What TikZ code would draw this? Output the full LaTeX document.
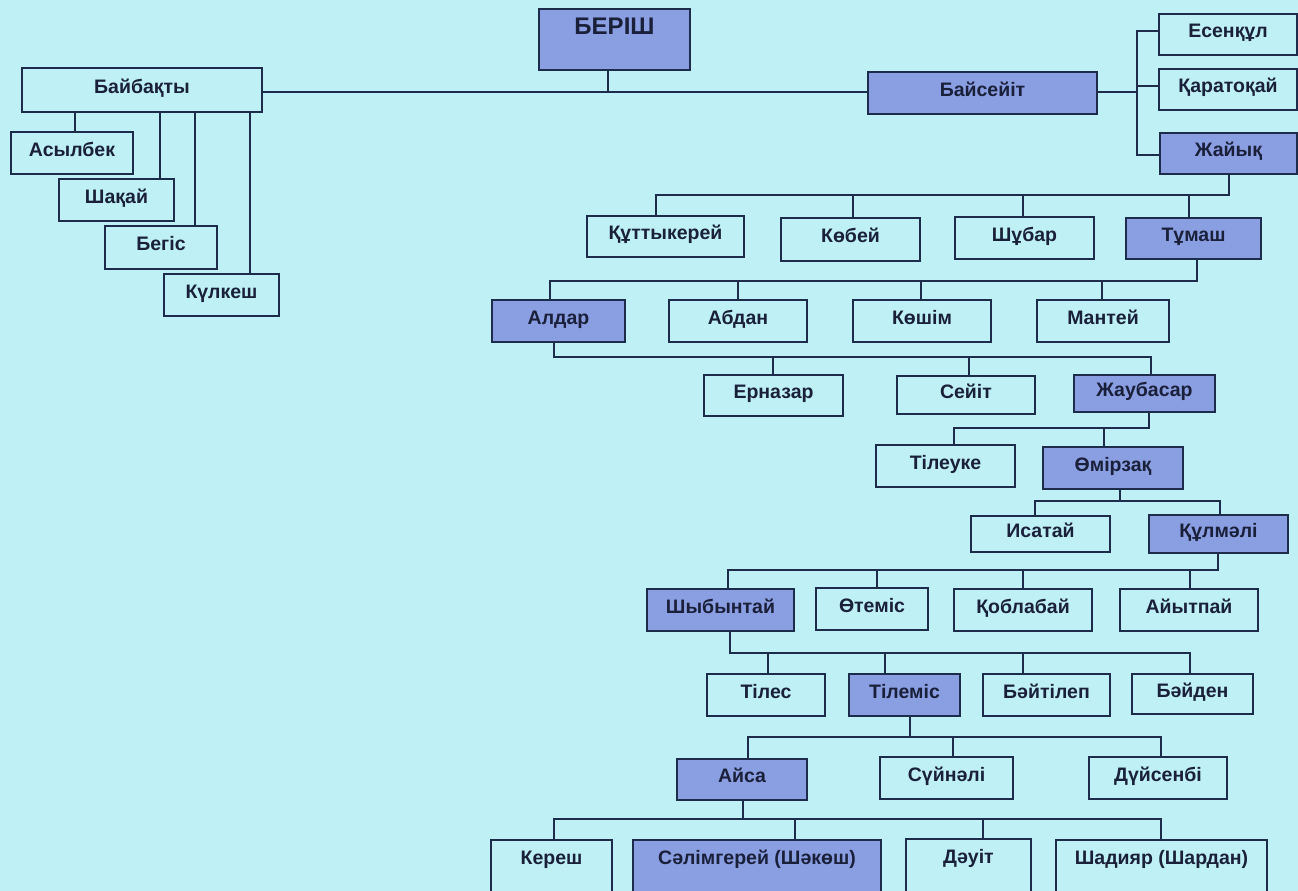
\documentclass[tikz,border=0pt]{standalone}
\usepackage{fontspec}
\setmainfont{Liberation Sans}
\definecolor{bg}{RGB}{190,240,246}
\definecolor{hl}{RGB}{138,158,226}
\definecolor{edge}{RGB}{28,44,74}
\definecolor{ink}{RGB}{26,32,58}
\tikzset{
  box/.style={draw=edge, line width=1.8pt, fill=bg, inner sep=0pt, outer sep=0pt, text=ink,
    font=\fontsize{19.5}{21}\selectfont\bfseries, text height=13pt, text depth=7pt},
  hbox/.style={box, fill=hl},
  lowtext/.style={text height=2pt, text depth=14pt},
  conn/.style={draw=edge, line width=1.8pt, line cap=rect},
}
\newcommand\famlink[6]{%
  \coordinate (#1-st) at (#2,#3);
  \coordinate (#1-bl) at (#4,#3);
  \coordinate (#1-br) at (#5,#3);
  \draw[conn] (#1.south -| #1-st) -- (#1-st);
  \draw[conn] (#1-bl) -- (#1-br);
  \foreach \c/\x in {#6}{\coordinate (\c-dr) at (\x,#3); \draw[conn] (\c.north -| \c-dr) -- (\c-dr);}
}
\begin{document}
\begin{tikzpicture}[x=1pt,y=-1pt]
\useasboundingbox (0,0) rectangle (1298,891);
\fill[bg] (0,0) rectangle (1298,891);

% nodes
\node[hbox, minimum width=151pt, minimum height=61pt, font=\fontsize{24}{26}\selectfont\bfseries, text height=4pt, text depth=13pt] (beris) at (614.5,39.5) {БЕРІШ};
\node[box, minimum width=240pt, minimum height=44pt] (baib) at (142,90) {Байбақты};
\node[box, minimum width=122pt, minimum height=42pt] (asyl) at (72,153) {Асылбек};
\node[box, minimum width=115pt, minimum height=42pt] (shaq) at (116.5,200) {Шақай};
\node[box, minimum width=112pt, minimum height=43pt] (begis) at (161,247.5) {Бегіс};
\node[box, minimum width=115pt, minimum height=42pt] (kulk) at (221.5,295) {Күлкеш};

\node[hbox, minimum width=229pt, minimum height=42pt] (bais) at (982.5,93) {Байсейіт};
\node[box, minimum width=138pt, minimum height=41pt] (esen) at (1228,34.5) {Есенқұл};
\node[box, minimum width=138pt, minimum height=41pt] (qara) at (1228,89.5) {Қаратоқай};
\node[hbox, minimum width=137pt, minimum height=41pt] (zhai) at (1228.5,153.5) {Жайық};

\node[box, minimum width=157pt, minimum height=41pt] (qutt) at (665.5,236.5) {Құттыкерей};
\node[box, minimum width=139pt, minimum height=43pt] (kobei) at (850.5,239.5) {Көбей};
\node[box, minimum width=139pt, minimum height=42pt] (shubar) at (1024.5,238) {Шұбар};
\node[hbox, minimum width=135pt, minimum height=41pt] (tumash) at (1193.5,238.5) {Тұмаш};

\node[hbox, minimum width=133pt, minimum height=42pt] (aldar) at (558.5,321) {Алдар};
\node[box, minimum width=138pt, minimum height=42pt] (abdan) at (738,321) {Абдан};
\node[box, minimum width=138pt, minimum height=42pt] (koshim) at (922,321) {Көшім};
\node[box, minimum width=132pt, minimum height=42pt] (mantei) at (1103,321) {Мантей};

\node[box, minimum width=139pt, minimum height=41pt] (ernazar) at (773.5,395.5) {Ерназар};
\node[box, minimum width=138pt, minimum height=38pt] (seiit) at (966,395) {Сейіт};
\node[hbox, minimum width=141pt, minimum height=37pt] (zhaub) at (1144.5,393.5) {Жаубасар};

\node[box, minimum width=139pt, minimum height=42pt] (tileuke) at (945.5,466) {Тілеуке};
\node[hbox, minimum width=140pt, minimum height=42pt] (omirzaq) at (1113,468) {Өмірзақ};

\node[box, minimum width=139pt, minimum height=36pt] (isatai) at (1040.5,534) {Исатай};
\node[hbox, minimum width=139pt, minimum height=38pt] (qulmali) at (1218.5,534) {Құлмәлі};

\node[hbox, minimum width=147pt, minimum height=42pt] (shyb) at (720.5,610) {Шыбынтай};
\node[box, minimum width=112pt, minimum height=42pt] (otemis) at (872,609) {Өтеміс};
\node[box, minimum width=138pt, minimum height=42pt] (qoblabai) at (1023,610) {Қоблабай};
\node[box, minimum width=138pt, minimum height=42pt] (aiytpai) at (1189,610) {Айытпай};

\node[box, minimum width=118pt, minimum height=42pt] (tiles) at (766,695) {Тілес};
\node[hbox, minimum width=111pt, minimum height=42pt] (tilemis) at (904.5,695) {Тілеміс};
\node[box, minimum width=127pt, minimum height=42pt] (baitilep) at (1046.5,695) {Бәйтілеп};
\node[box, minimum width=121pt, minimum height=40pt] (baiden) at (1192.5,694) {Бәйден};

\node[hbox, minimum width=130pt, minimum height=41pt] (aisa) at (742,779.5) {Айса};
\node[box, minimum width=133pt, minimum height=42pt] (suinali) at (946.5,778) {Сүйнәлі};
\node[box, minimum width=138pt, minimum height=42pt] (duisenbi) at (1158,778) {Дүйсенбі};

\node[box, lowtext, minimum width=121pt, minimum height=60pt] (keresh) at (551.5,870) {Кереш};
\node[hbox, lowtext, minimum width=248pt, minimum height=60pt] (salim) at (757,870) {Сәлімгерей (Шәкөш)};
\node[box, lowtext, minimum width=125pt, minimum height=61pt] (dauit) at (968.5,869.5) {Дәуіт};
\node[box, lowtext, minimum width=211pt, minimum height=60pt] (shadiyar) at (1161.5,870) {Шадияр (Шардан)};

% connectors
\coordinate (root-j) at (608,92);
\draw[conn] (beris.south -| root-j) -- (root-j);
\draw[conn] (baib.east |- root-j) -- (bais.west |- root-j);

\foreach \c/\x in {asyl/75, shaq/160, begis/195, kulk/250}{
  \coordinate (\c-up) at (\x,112);
  \draw[conn] (\c.north -| \c-up) -- (baib.south -| \c-up);
}

\coordinate (brk) at (1137,92);
\coordinate (brkT) at (1137,31);
\coordinate (brkM) at (1137,86);
\coordinate (brkB) at (1137,155);
\draw[conn] (bais.east |- brk) -- (brk);
\draw[conn] (brkT) -- (brkB);
\draw[conn] (brkT) -- (esen.west |- brkT);
\draw[conn] (brkM) -- (qara.west |- brkM);
\draw[conn] (brkB) -- (zhai.west |- brkB);

\famlink{zhai}{1229}{195}{656}{1229}{qutt/656, kobei/853, shubar/1023, tumash/1189}
\famlink{tumash}{1197}{281}{550}{1197}{aldar/550, abdan/738, koshim/921, mantei/1102}
\famlink{aldar}{554}{357}{554}{1151}{ernazar/773, seiit/969, zhaub/1151}
\famlink{zhaub}{1149}{428}{954}{1149}{tileuke/954, omirzaq/1104}
\famlink{omirzaq}{1120}{501}{1035}{1220}{isatai/1035, qulmali/1220}
\famlink{qulmali}{1218}{570}{728}{1218}{shyb/728, otemis/877, qoblabai/1023, aiytpai/1190}
\famlink{shyb}{730}{653}{730}{1190}{tiles/768, tilemis/885, baitilep/1023, baiden/1190}
\famlink{tilemis}{910}{737}{748}{1161}{aisa/748, suinali/953, duisenbi/1161}
\famlink{aisa}{743}{819}{554}{1161}{keresh/554, salim/795, dauit/983, shadiyar/1161}
\end{tikzpicture}
\end{document}
